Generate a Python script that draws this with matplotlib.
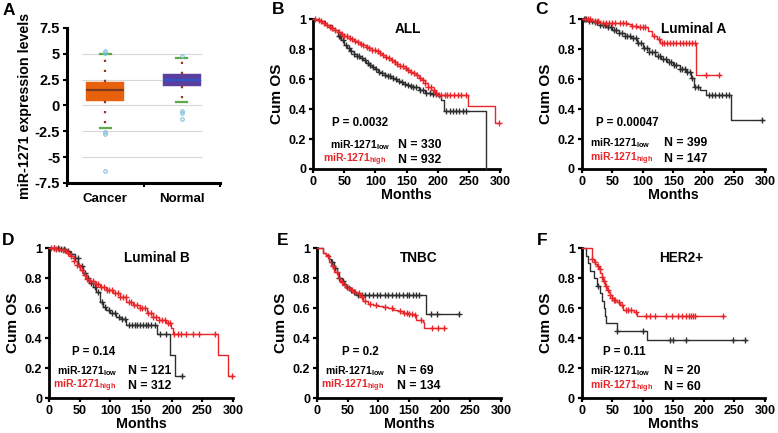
import numpy as np
import matplotlib
matplotlib.use('Agg')
import matplotlib.pyplot as plt

plt.rcParams['font.family'] = ['Liberation Sans', 'DejaVu Sans']
plt.rcParams['font.weight'] = 'bold'
plt.rcParams['axes.labelweight'] = 'bold'
plt.rcParams['mathtext.fontset'] = 'custom'
plt.rcParams['mathtext.rm'] = 'Liberation Sans'
plt.rcParams['mathtext.bf'] = 'Liberation Sans:bold'

# ---------------- Panel A data ----------------
box_groups = ['Cancer', 'Normal']
box_q1 = [0.45, 1.9]
box_med = [1.45, 2.5]
box_q3 = [2.3, 3.0]
box_whislo = [-2.2, 0.35]
box_whishi = [5.0, 4.55]
cancer_fliers = [5.3, 5.1, -2.55, -2.8, -6.3]
normal_fliers = [4.75, -0.5, -0.7, -1.35]
a_yticks = [7.5, 5, 2.5, 0, -2.5, -5, -7.5]
a_ytick_labels = ['7.5', '5', '2.5', '0', '-2.5', '-5', '-7.5']
a_grid = [5, 2.5, 0, -2.5, -5]

# ---------------- KM data (time, survival at step) ----------------
# B: ALL
b_low_t = [0,10,20,30,40,45,50,55,60,65,70,75,80,85,90,95,100,105,110,115,120,125,130,135,140,145,150,155,160,170,180,190,200,205,210,277]
b_low_s = [1.0,.985,.96,.93,.89,.86,.83,.81,.79,.77,.755,.74,.725,.71,.695,.68,.665,.65,.64,.63,.62,.61,.6,.59,.58,.57,.56,.553,.545,.53,.51,.5,.49,.46,.39,0.0]
b_low_c = [41,44,48,53,57,61,66,70,74,79,83,88,92,97,101,106,111,115,120,124,129,133,138,143,147,152,157,161,166,171,176,182,187,192,197,214,219,224,229,234,240,245]
b_high_t = [0,5,10,15,20,25,30,35,40,45,50,55,60,65,70,75,80,85,90,95,100,105,110,115,120,125,130,135,140,145,150,155,160,165,170,175,180,185,190,195,200,249,292,299]
b_high_s = [1.0,.995,.985,.975,.962,.95,.938,.925,.912,.9,.89,.876,.866,.856,.845,.835,.824,.814,.804,.795,.785,.772,.76,.748,.737,.724,.712,.7,.688,.676,.663,.65,.638,.624,.61,.595,.575,.55,.53,.51,.495,.42,.31,.31]
b_high_c = [4,9,13,18,23,27,31,36,41,46,50,54,59,63,68,72,77,81,86,90,95,99,104,108,113,117,122,126,131,135,140,144,149,153,158,162,167,171,176,180,185,189,194,198,202,206,211,215,220,226,232,238,246,299]

# C: Luminal A
c_low_t = [0,10,20,30,40,50,60,70,80,90,100,110,120,130,140,150,160,170,178,183,193,204,245,297]
c_low_s = [1.0,.99,.978,.962,.945,.93,.91,.89,.872,.84,.805,.778,.755,.735,.715,.695,.67,.645,.61,.55,.528,.494,.325,.325]
c_low_c = [3,7,12,16,21,25,30,34,38,43,47,52,56,61,65,70,74,79,83,88,92,97,101,106,110,115,119,124,128,133,137,142,146,151,155,160,164,169,173,177,181,186,191,208,213,218,224,229,236,241,296]
c_high_t = [0,16,30,74,80,90,108,115,123,128,187,226]
c_high_s = [1.0,.99,.975,.965,.955,.945,.92,.89,.865,.843,.63,.63]
c_high_c = [5,10,14,22,27,35,40,45,50,55,62,68,72,82,88,95,100,104,118,126,131,135,140,145,150,155,160,165,170,175,180,185,203,224]

# D: Luminal B
d_low_t = [0,15,28,35,42,48,55,60,66,72,77,83,88,93,100,110,118,126,176,198,206,218]
d_low_s = [1.0,.995,.978,.96,.933,.88,.833,.8,.766,.74,.71,.643,.61,.587,.565,.542,.525,.49,.426,.286,.15,.15]
d_low_c = [8,14,19,25,31,36,42,47,53,58,64,69,75,80,86,92,97,103,108,114,119,124,130,135,140,144,149,153,158,162,167,172,181,190,217]
d_high_t = [0,10,20,27,34,40,45,50,55,60,66,75,83,93,104,115,126,137,148,159,170,180,191,199,202,275,292,300]
d_high_s = [1.0,.995,.99,.97,.944,.915,.888,.855,.82,.795,.777,.76,.743,.72,.7,.672,.643,.622,.6,.57,.542,.52,.498,.464,.426,.286,.15,.15]
d_high_c = [3,8,12,17,22,26,31,36,40,45,49,53,58,62,67,71,76,80,85,89,94,98,103,107,112,116,121,125,130,134,139,143,148,152,157,161,166,170,175,180,184,189,194,198,204,210,216,224,234,245,270,298]

# E: TNBC
e_low_t = [0,10,15,19,23,28,32,36,40,44,48,53,58,64,177,231]
e_low_s = [1.0,.97,.955,.93,.91,.87,.833,.8,.777,.76,.743,.72,.71,.69,.5625,.5625]
e_low_c = [24,30,36,42,49,55,61,67,73,79,85,91,97,103,110,116,122,128,134,140,146,150,156,162,167,186,196,231]
e_high_t = [0,10,15,19,23,28,34,38,42,48,53,58,64,70,75,83,91,100,108,116,124,132,140,150,157,162,173,175,208]
e_high_s = [1.0,.97,.944,.91,.877,.84,.8,.775,.754,.735,.72,.71,.7,.675,.647,.63,.62,.615,.61,.598,.587,.578,.569,.56,.553,.52,.504,.464,.464]
e_high_c = [18,26,33,40,46,52,57,62,68,73,79,87,96,110,122,135,141,146,150,155,160,170,188,197,207]

# F: HER2+
f_low_t = [0,6,10,14,20,25,30,33,36,38,40,57,107,269]
f_low_s = [1.0,.95,.9,.85,.8,.75,.7,.65,.6,.55,.5,.45,.386,.386]
f_low_c = [26,57,100,145,149,170,247,268]
f_high_t = [0,16,19,22,25,28,30,33,35,38,41,44,46,49,52,57,63,68,85,90,233]
f_high_s = [1.0,.93,.91,.893,.877,.86,.832,.81,.777,.75,.72,.705,.688,.67,.654,.637,.62,.587,.575,.545,.545]
f_high_c = [17,21,26,29,33,36,40,43,46,49,52,55,60,66,72,76,80,88,105,111,120,138,148,157,164,171,175,178,182,186,231]

km_xticks = [0, 50, 100, 150, 200, 250, 300]
km_yticks = [0, 0.2, 0.4, 0.6, 0.8, 1.0]
km_ytick_labels = ['0', '0.2', '0.4', '0.6', '0.8', '1']

RED = '#E8262A'
BLK = '#2e2e2e'

fig = plt.figure(figsize=(7.78, 4.33), dpi=100)

# ---------------- Panel A ----------------
axA = fig.add_axes([0.0861, 0.5774, 0.1967, 0.358])
stats = [
    dict(med=box_med[0], q1=box_q1[0], q3=box_q3[0], whislo=box_whislo[0], whishi=box_whishi[0], fliers=cancer_fliers, label=box_groups[0]),
    dict(med=box_med[1], q1=box_q1[1], q3=box_q3[1], whislo=box_whislo[1], whishi=box_whishi[1], fliers=normal_fliers, label=box_groups[1]),
]
axA.hlines(a_grid, 0.69, 2.27, color='#d8d8d8', lw=0.8, zorder=0)
bp = axA.bxp(stats, positions=[1, 2], widths=0.5, patch_artist=True, capwidths=0.14,
             whiskerprops=dict(color='#A0302A', lw=1.6, linestyle=(0, (1, 3.5))),
             capprops=dict(color='#5DAA45', lw=1.6),
             flierprops=dict(marker='o', mfc='none', mec='#80BEDD', ms=2.5, mew=0.8),
             boxprops=dict(lw=0.3))
box_colors = ['#E8620E', '#5B3E9E']
med_colors = ['#7A3A20', '#2D58C8']
for p, fc in zip(bp['boxes'], box_colors):
    p.set_facecolor(fc)
    p.set_edgecolor(fc)
for m, mc in zip(bp['medians'], med_colors):
    m.set_color(mc)
    m.set_linewidth(1.6)
axA.set_xlim(0.5, 2.5)
axA.set_ylim(-7.5, 7.5)
axA.set_yticks(a_yticks)
axA.set_yticklabels(a_ytick_labels)
axA.set_xticks([0.5, 1.5, 2.5])
axA.set_xticklabels(['', '', ''])
axA.set_xticks([1, 2], minor=True)
axA.set_xticklabels(box_groups, minor=True)
axA.tick_params(axis='x', which='minor', length=0, labelsize=9.5, pad=7)
axA.tick_params(axis='x', which='major', length=3, width=1.5)
axA.tick_params(axis='y', length=3, width=1.5, labelsize=10.5, pad=2)
for lab in axA.get_xticklabels(minor=True) + axA.get_yticklabels():
    lab.set_fontweight('bold')
for sp in ['top', 'right']:
    axA.spines[sp].set_visible(False)
for sp in ['left', 'bottom']:
    axA.spines[sp].set_linewidth(2.2)
axA.set_ylabel('miR-1271 expression levels', fontsize=10.3, fontweight='bold', labelpad=2)


def step_value(t, s, ct):
    t = np.asarray(t)
    s = np.asarray(s)
    idx = np.searchsorted(t, ct, side='right') - 1
    idx = np.clip(idx, 0, len(s) - 1)
    return s[idx]


def km_axes(rect):
    ax = fig.add_axes(rect)
    ax.set_xlim(0, 300)
    ax.set_ylim(0, 1)
    ax.set_xticks(km_xticks)
    ax.set_yticks(km_yticks)
    ax.set_yticklabels(km_ytick_labels)
    ax.tick_params(length=3, width=1.6, labelsize=9, pad=2)
    for lab in ax.get_xticklabels() + ax.get_yticklabels():
        lab.set_fontweight('bold')
    for sp in ['top', 'right']:
        ax.spines[sp].set_visible(False)
    for sp in ['left', 'bottom']:
        ax.spines[sp].set_linewidth(2.0)
    ax.set_xlabel('Months', fontsize=10.3, fontweight='bold', labelpad=0)
    ax.set_ylabel('Cum OS', fontsize=11, fontweight='bold', labelpad=3)
    return ax


def km_curve(ax, t, s, ct, color, lw=1.0):
    ax.step(t, s, where='post', color=color, lw=lw, clip_on=False, zorder=3)
    ax.plot(ct, step_value(t, s, ct), ls='none', marker='+', color=color, ms=3.8, mew=1.0, clip_on=False, zorder=3)


def km_text(ax, title, tx, pval, px, low_x, high_x, n_x, n_low, n_high, low_y, high_y):
    ax.text(tx, 0.935, title, ha='center', va='center', fontsize=9.8, fontweight='bold')
    ax.text(px, 0.31, pval, ha='center', va='center', fontsize=8.3, fontweight='bold')
    ax.text(low_x, low_y, r'miR-1271$_{\mathregular{low}}$', ha='left', va='center', fontsize=7.5, fontweight='bold', color='black')
    ax.text(high_x, high_y, r'miR-1271$_{\mathregular{high}}$', ha='left', va='center', fontsize=7.5, fontweight='bold', color=RED)
    ax.text(n_x, low_y, 'N = %d' % n_low, ha='left', va='center', fontsize=8.8, fontweight='bold')
    ax.text(n_x, high_y, 'N = %d' % n_high, ha='left', va='center', fontsize=8.8, fontweight='bold')


axB = km_axes([0.4023, 0.6097, 0.2404, 0.3464])
km_curve(axB, b_low_t, b_low_s, b_low_c, BLK)
km_curve(axB, b_high_t, b_high_s, b_high_c, RED)
km_text(axB, 'ALL', 152, 'P = 0.0032', 75, 27, 16, 137, 330, 932, 0.157, 0.062)

axC = km_axes([0.748, 0.6097, 0.2352, 0.3464])
km_curve(axC, c_low_t, c_low_s, c_low_c, BLK)
km_curve(axC, c_high_t, c_high_s, c_high_c, RED)
km_text(axC, 'Luminal A', 183, 'P = 0.00047', 74, 14, 14, 134, 399, 147, 0.173, 0.067)

axD = km_axes([0.063, 0.0808, 0.2365, 0.3464])
km_curve(axD, d_low_t, d_low_s, d_low_c, BLK)
km_curve(axD, d_high_t, d_high_s, d_high_c, RED)
km_text(axD, 'Luminal B', 176, 'P = 0.14', 72, 13, 6.5, 129, 121, 312, 0.179, 0.08)

axE = km_axes([0.4075, 0.0808, 0.2365, 0.3464])
km_curve(axE, e_low_t, e_low_s, e_low_c, BLK)
km_curve(axE, e_high_t, e_high_s, e_high_c, RED)
km_text(axE, 'TNBC', 165, 'P = 0.2', 70, 12.5, 7, 130, 69, 134, 0.179, 0.08)

axF = km_axes([0.748, 0.0808, 0.2352, 0.3464])
km_curve(axF, f_low_t, f_low_s, f_low_c, BLK)
km_curve(axF, f_high_t, f_high_s, f_high_c, RED)
km_text(axF, 'HER2+', 162, 'P = 0.11', 69, 14, 14, 134, 20, 60, 0.179, 0.074)

# panel letters
for letter, x, y in [('A', 3, 3), ('B', 272, 2), ('C', 535, 2), ('D', 2, 233), ('E', 277, 233), ('F', 537, 233)]:
    fig.text(x / 778, 1 - y / 433, letter, ha='left', va='top', fontsize=12.5, fontweight='bold')

fig.savefig('out.png', dpi=100)
